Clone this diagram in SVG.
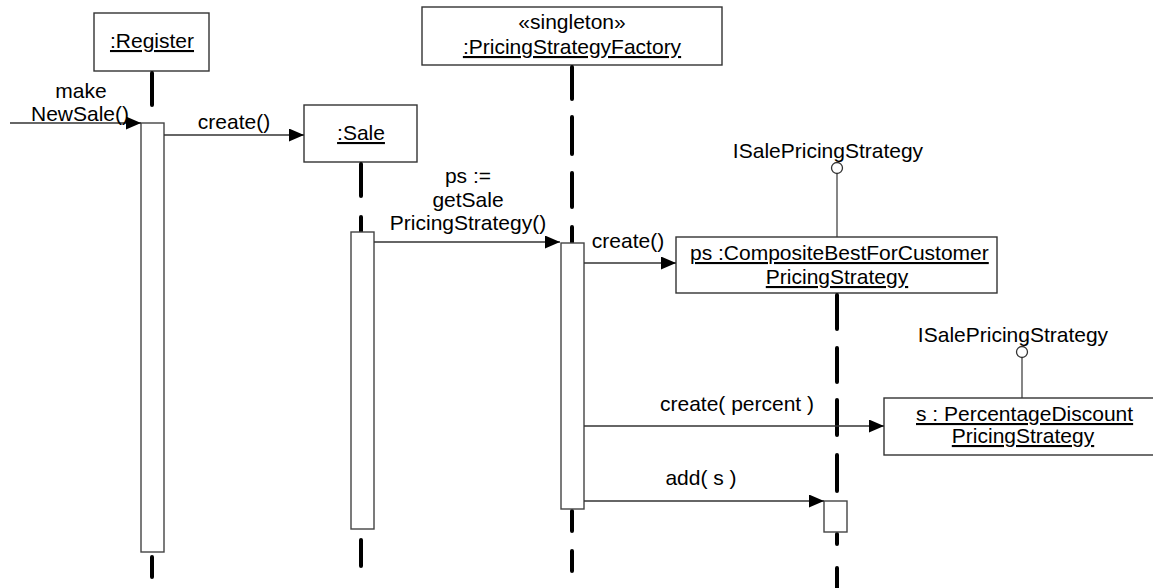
<svg xmlns="http://www.w3.org/2000/svg" width="1153" height="588" viewBox="0 0 1153 588">
<style>
  text { font-family: "Liberation Sans", Arial, sans-serif; font-size: 21px; fill: #000; }
  .c { text-anchor: middle; }
  .u { text-decoration: underline; }
  .box { fill: #fff; stroke: #333; stroke-width: 1.4; }
  .act { fill: #fff; stroke: #444; stroke-width: 1.4; }
  .life { stroke: #000; stroke-width: 4; stroke-linecap: round; fill: none; }
  .msg { stroke: #333; stroke-width: 1.3; fill: none; marker-end: url(#arrow); }
  .iface { stroke: #444; stroke-width: 1.3; fill: none; }
  .lolly { fill: #fff; stroke: #333; stroke-width: 1.3; }
</style>
<defs>
  <marker id="arrow" markerUnits="userSpaceOnUse" markerWidth="15" markerHeight="13" refX="15" refY="6.5" orient="auto">
    <path d="M0,0 L15,6.5 L0,13 z" fill="#000"/>
  </marker>
</defs>
<rect width="1153" height="588" fill="#fff"/>

<g id="register">
  <rect class="box" x="94" y="13" width="115" height="58"/>
  <text class="c u" x="152" y="48">:Register</text>
  <path class="life" d="M152,73 V105 M152,557 V577"/>
  <rect class="act" x="141" y="123" width="23" height="429"/>
</g>

<g id="sale">
  <rect class="box" x="304" y="105" width="113" height="57"/>
  <text class="c u" x="361" y="140">:Sale</text>
  <path class="life" d="M361,164 V196 M361,217 V232 M361,540 V566"/>
  <rect class="act" x="351" y="232" width="23" height="297"/>
</g>

<g id="factory">
  <rect class="box" x="422" y="7" width="300" height="58"/>
  <text class="c" x="572" y="29">«singleton»</text>
  <text class="c u" x="572" y="54">:PricingStrategyFactory</text>
  <path class="life" d="M572,67 V99 M572,117 V154 M572,173 V207 M572,227 V243 M572,511 V531 M572,551 V571"/>
  <rect class="act" x="561" y="243" width="23" height="266"/>
</g>

<g id="composite">
  <line class="iface" x1="837" y1="173.5" x2="837" y2="237"/>
  <circle class="lolly" cx="837" cy="168" r="5.5"/>
  <text class="c" x="828" y="158">ISalePricingStrategy</text>
  <rect class="box" x="676" y="237" width="321" height="56"/>
  <text class="u" x="690" y="260">ps :CompositeBestForCustomer</text>
  <text class="c u" x="837" y="284">PricingStrategy</text>
  <path class="life" d="M837,295 V329 M837,348 V382 M837,400 V435 M837,455 V491 M837,534 V544 M837,568 V590"/>
  <rect class="act" x="824" y="501" width="23" height="31"/>
</g>

<g id="percentage">
  <line class="iface" x1="1022" y1="357.5" x2="1022" y2="398"/>
  <circle class="lolly" cx="1022" cy="352" r="5.5"/>
  <text class="c" x="1013" y="342">ISalePricingStrategy</text>
  <rect class="box" x="884" y="398" width="290" height="57"/>
  <text class="u" x="916" y="421">s : PercentageDiscount</text>
  <text class="c u" x="1023" y="443">PricingStrategy</text>
</g>

<g id="connectors">
  <line class="msg" x1="10" y1="123" x2="141" y2="123"/>
  <text class="c" x="81" y="98">make</text>
  <text class="c" x="80" y="121">NewSale()</text>

  <line class="msg" x1="164" y1="135" x2="304" y2="135"/>
  <text class="c" x="234" y="129">create()</text>

  <line class="msg" x1="374" y1="242" x2="560" y2="242"/>
  <text class="c" x="468" y="183">ps :=</text>
  <text class="c" x="468" y="207">getSale</text>
  <text class="c" x="468" y="230">PricingStrategy()</text>

  <line class="msg" x1="584" y1="263" x2="676" y2="263"/>
  <text class="c" x="628" y="248">create()</text>

  <line class="msg" x1="584" y1="426" x2="884" y2="426"/>
  <text class="c" x="737" y="411">create( percent )</text>

  <line class="msg" x1="584" y1="501" x2="824" y2="501"/>
  <text class="c" x="701" y="485">add( s )</text>
</g>
</svg>
